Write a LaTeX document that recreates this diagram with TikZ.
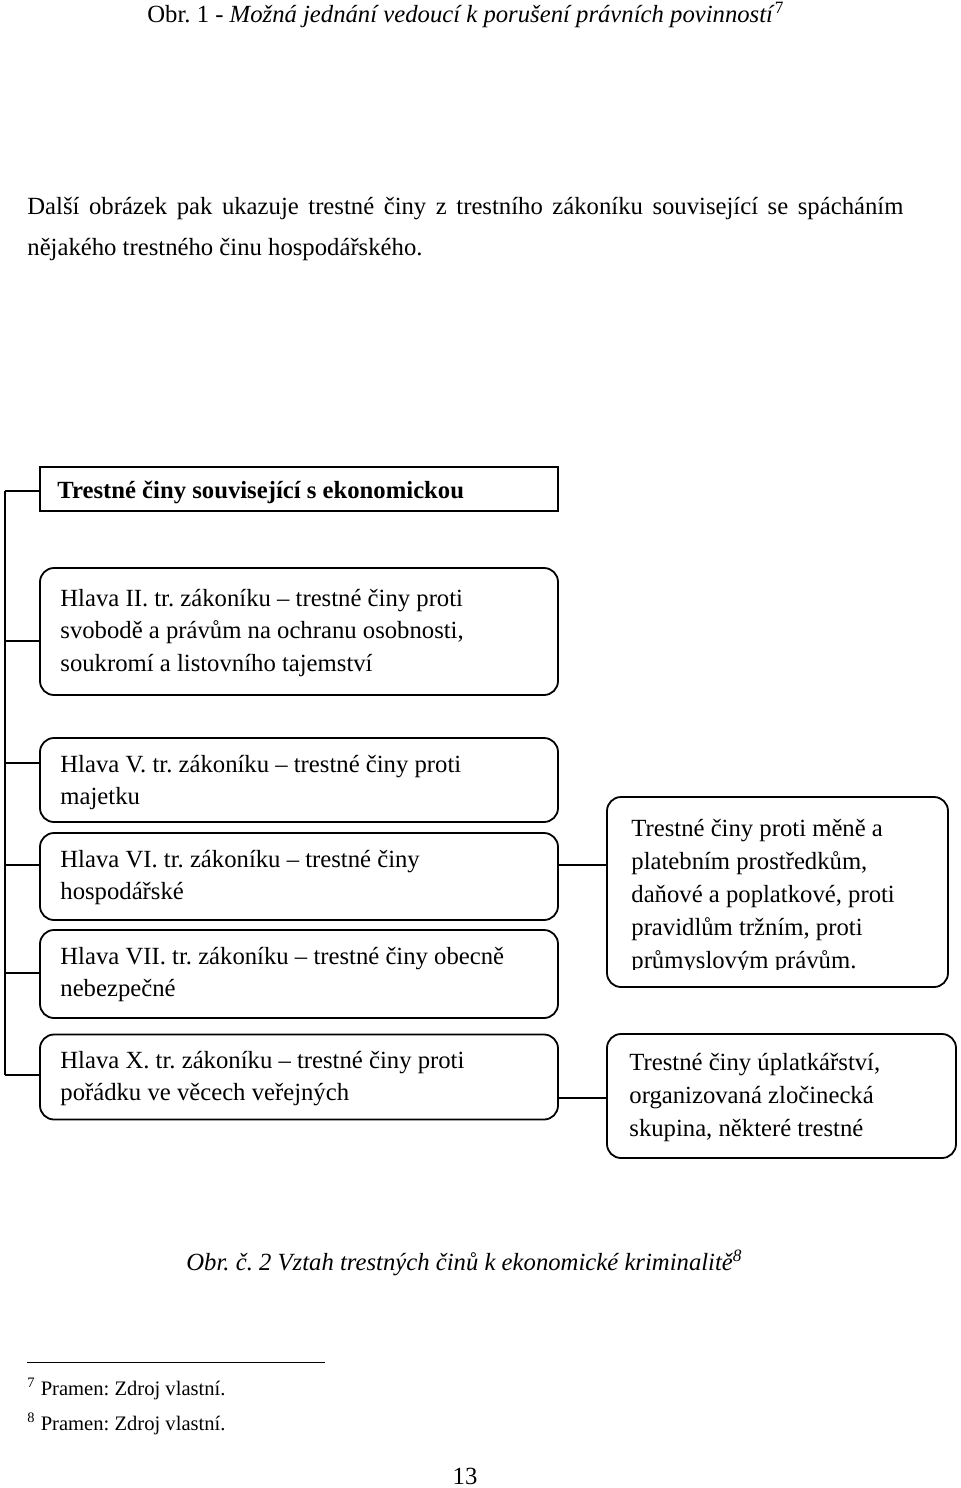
\documentclass[tikz,border=0pt]{standalone}
\usepackage{fontspec}
\setmainfont{Liberation Serif}
\frenchspacing
\begin{document}
\frenchspacing
\begin{tikzpicture}[x=0.5pt,y=-0.5pt,
  rbox/.style={draw, line width=0.9pt, rounded corners=7pt, inner sep=0pt},
  sqbox/.style={draw, line width=1.1pt, inner sep=0pt},
  txt/.style={anchor=base west, inner sep=0pt, font=\fontsize{12.35}{16.5}\selectfont},
  fnt/.style={anchor=base west, inner sep=0pt, font=\fontsize{10.3}{12}\selectfont},
  link/.style={line width=0.8pt}]
\useasboundingbox (0,0) rectangle (960,1488);

% header texts
\node[txt] (title) at (147,22) {Obr. 1 - \textit{Možná jednání vedoucí k porušení právních povinností}\textsuperscript{7}};
\node[txt] (para1) at (27,214) {\makebox[438pt][s]{Další obrázek pak ukazuje trestné činy z trestního zákoníku související se spácháním}};
\node[txt] (para2) at (27,255) {nějakého trestného činu hospodářského.};

% boxes
\node[sqbox, minimum width={518*0.5pt}, minimum height={44*0.5pt}] (b1) at (299,489) {};
\node[rbox, minimum width={518*0.5pt}, minimum height={127*0.5pt}] (b2) at (299,631.5) {};
\node[rbox, minimum width={518*0.5pt}, minimum height={84*0.5pt}] (b3) at (299,780) {};
\node[rbox, minimum width={518*0.5pt}, minimum height={87*0.5pt}] (b4) at (299,876.5) {};
\node[rbox, minimum width={518*0.5pt}, minimum height={88*0.5pt}] (b5) at (299,974) {};
\node[rbox, minimum width={518*0.5pt}, minimum height={85*0.5pt}] (b6) at (299,1077) {};
\node[rbox, minimum width={341*0.5pt}, minimum height={190*0.5pt}] (bA) at (777.5,892) {};
\node[rbox, minimum width={349*0.5pt}, minimum height={124*0.5pt}] (bB) at (781.5,1096) {};

% box texts
\node[txt, font=\fontsize{12.35}{16.5}\selectfont\bfseries] (t1) at (57,498) {Trestné činy související s ekonomickou};
\node[txt] (t2a) at (60,606) {Hlava II. tr. zákoníku – trestné činy proti};
\node[txt] (t2b) at (60,638) {svobodě a právům na ochranu osobnosti,};
\node[txt] (t2c) at (60,671) {soukromí a listovního tajemství};
\node[txt] (t3a) at (60,772) {Hlava V. tr. zákoníku – trestné činy proti};
\node[txt] (t3b) at (60,804) {majetku};
\node[txt] (t4a) at (60,867) {Hlava VI. tr. zákoníku – trestné činy};
\node[txt] (t4b) at (60,899) {hospodářské};
\node[txt] (t5a) at (60,964) {Hlava VII. tr. zákoníku – trestné činy obecně};
\node[txt] (t5b) at (60,996) {nebezpečné};
\node[txt] (t6a) at (60,1068) {Hlava X. tr. zákoníku – trestné činy proti};
\node[txt] (t6b) at (60,1100) {pořádku ve věcech veřejných};
\begin{scope}
\clip (610,800) rectangle (945,969);
\node[txt] (tAa) at (631,836) {Trestné činy proti měně a};
\node[txt] (tAb) at (631,869) {platebním prostředkům,};
\node[txt] (tAc) at (631,902) {daňové a poplatkové, proti};
\node[txt] (tAd) at (631,935) {pravidlům tržním, proti};
\node[txt] (tAe) at (631,968) {průmyslovým právům.};
\end{scope}
\node[txt] (tBa) at (629,1070) {Trestné činy úplatkářství,};
\node[txt] (tBb) at (629,1103) {organizovaná zločinecká};
\node[txt] (tBc) at (629,1136) {skupina, některé trestné};

% connectors
\coordinate (s1) at (5,491);
\coordinate (s2) at (5,641);
\coordinate (s3) at (5,763);
\coordinate (s4) at (5,865);
\coordinate (s5) at (5,973);
\coordinate (s6) at (5,1075);
\draw[link] (s1) -- (s6);
\draw[link] (s1) -- (s1 -| b1.west);
\draw[link] (s2) -- (s2 -| b2.west);
\draw[link] (s3) -- (s3 -| b3.west);
\draw[link] (s4) -- (s4 -| b4.west);
\draw[link] (s5) -- (s5 -| b5.west);
\draw[link] (s6) -- (s6 -| b6.west);
\coordinate (r1) at (580,865);
\coordinate (r2) at (580,1098);
\draw[link] (r1 -| b4.east) -- (r1 -| bA.west);
\draw[link] (r2 -| b6.east) -- (r2 -| bB.west);

% caption and footnotes
\node[txt, font=\fontsize{12.35}{16.5}\selectfont\itshape] (cap) at (186,1270) {Obr. č. 2 Vztah trestných činů k ekonomické kriminalitě\textsuperscript{8}};
\draw[line width=0.5pt] (27,1362) -- (325,1362);
\node[fnt] (f1) at (27,1395) {\textsuperscript{7} Pramen: Zdroj vlastní.};
\node[fnt] (f2) at (27,1430) {\textsuperscript{8} Pramen: Zdroj vlastní.};
\node[anchor=base, inner sep=0pt, font=\fontsize{12.35}{16.5}\selectfont] (pg) at (465,1484) {13};
\end{tikzpicture}
\end{document}
